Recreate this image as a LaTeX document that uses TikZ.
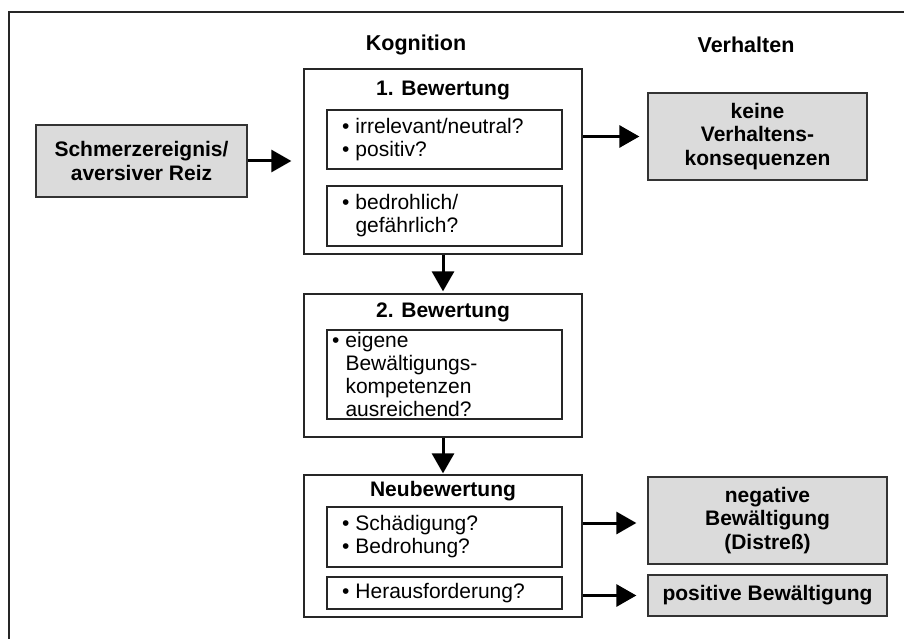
\documentclass[tikz,border=0pt]{standalone}
\usepackage{fontspec}
\setmainfont{Liberation Sans}
\usetikzlibrary{arrows.meta}
% bullet with a fixed advance, and the matching hanging indent
\newcommand\bul{\makebox[13.5pt][l]{\textbullet}}
\newcommand\hang{\hspace*{13.5pt}}
\begin{document}
\begin{tikzpicture}[x=1pt,y=-1pt,
  frame/.style={draw=black!85, line width=1.3pt},
  head/.style={font=\fontsize{21.5}{23}\selectfont\bfseries, inner sep=0pt},
  title/.style={font=\fontsize{21}{23}\selectfont\bfseries, inner sep=0pt},
  outerbox/.style={draw=black!85, line width=1.3pt, inner sep=0pt},
  graybox/.style={draw=black!80, line width=1.3pt, fill=black!14, inner sep=0pt,
    align=center, font=\fontsize{21}{23.5}\selectfont\bfseries},
  listbox/.style={draw=black!85, line width=1.2pt, inner ysep=0pt, inner xsep=15pt,
    text width=205pt, align=left, font=\fontsize{21}{23}\selectfont},
  listboxtight/.style={listbox, inner xsep=5pt, text width=225pt},
  arr/.style={draw=black, line width=3pt, -{Triangle[length=20pt,width=22pt]}}
]
\useasboundingbox (0,0) rectangle (904,639);

% frame lines along the top and left edge
\draw[frame] (904,12) -- (9,12) -- (9,639);

% column headings
\node[head] (kog)  at (416,45) {Kognition};
\node[head] (verh) at (746,45) {Verhalten};

% stimulus
\node[graybox, minimum width=211, minimum height=72] (schmerz) at (141.5,161)
  {Schmerzereignis/\\aversiver Reiz};

% primary appraisal
\node[outerbox, minimum width=278, minimum height=185] (bew1) at (443,161.5) {};
\node[title] (t1) at (443,91) {1. Bewertung};
\node[listbox, minimum height=59] (b1a) at (444.5,139.5)
  {\bul irrelevant/neutral?\\\bul positiv?};
\node[listbox, minimum height=60] (b1b) at (444.5,216)
  {\bul bedrohlich/\\\hang gefährlich?};

% secondary appraisal
\node[outerbox, minimum width=278, minimum height=143] (bew2) at (443,365.5) {};
\node[title] (t2) at (443,312) {2. Bewertung};
\node[listboxtight, minimum height=89] (b2a) at (444.5,374.5)
  {\bul eigene\\\hang Bewältigungs-\\\hang kompetenzen\\\hang ausreichend?};

% reappraisal
\node[outerbox, minimum width=278, minimum height=142] (neu) at (443,546) {};
\node[title] (t3) at (443,491) {Neubewertung};
\node[listbox, minimum height=60] (n1) at (444.5,537)
  {\bul Schädigung?\\\bul Bedrohung?};
\node[listbox, minimum height=32] (n2) at (444.5,593)
  {\bul Herausforderung?};

% behavioural outcomes
\node[graybox, minimum width=219, minimum height=87] (keine) at (757.5,136.5)
  {keine\\Verhaltens-\\konsequenzen};
\node[graybox, minimum width=239, minimum height=87] (neg) at (767.5,520.5)
  {negative\\Bewältigung\\(Distreß)};
\node[graybox, minimum width=239, minimum height=41] (pos) at (767.5,595.5)
  {positive Bewältigung};

% connectors
\draw[arr, shorten >=12pt] (schmerz.east) -- (schmerz.east -| bew1.west);
\draw[arr, shorten >=8pt] (bew1.east |- keine.west) -- (keine.west);
\draw[arr, shorten >=2pt] (bew1.south) -- (bew2.north);
\draw[arr, shorten >=1pt] (bew2.south) -- (neu.north);
\draw[arr, shorten >=11pt] ([yshift=-2.5pt]neu.east |- neg.west) -- ([yshift=-2.5pt]neg.west);
\draw[arr, shorten >=11pt] (neu.east |- pos.west) -- (pos.west);
\end{tikzpicture}
\end{document}
